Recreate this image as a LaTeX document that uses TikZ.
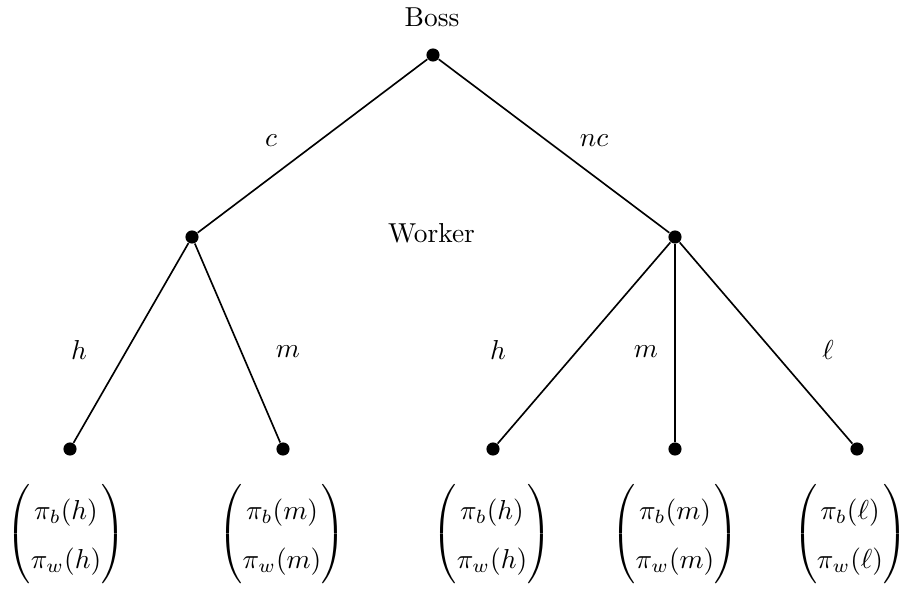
\documentclass[tikz,border=0pt]{standalone}
\usepackage{amsmath}
\begin{document}
\begin{tikzpicture}[x=0.365pt,y=-0.365pt,
  dot/.style={circle,fill=black,inner sep=0pt,minimum size=4.8pt},
  edge/.style={line width=0.6pt},
  lab/.style={inner sep=0pt},
  payoff/.style={inner sep=0pt}]
\useasboundingbox (0,0) rectangle (904,588);
\renewcommand{\arraystretch}{1.5}
\node[dot] (r) at (433,55) {};
\node[dot] (w1) at (192,237) {};
\node[dot] (w2) at (675,237) {};
\node[dot] (l1) at (70,449) {};
\node[dot] (l2) at (283,449) {};
\node[dot] (l3) at (493,449) {};
\node[dot] (l4) at (675,449) {};
\node[dot] (l5) at (857,449) {};
\draw[edge] (r) -- (w1);
\draw[edge] (r) -- (w2);
\draw[edge] (w1) -- (l1);
\draw[edge] (w1) -- (l2);
\draw[edge] (w2) -- (l3);
\draw[edge] (w2) -- (l4);
\draw[edge] (w2) -- (l5);
\node[lab] (boss) at (432,17) {Boss};
\node[lab] (worker) at (431.5,233) {Worker};
\node[lab] (ec) at (271,141) {$c$};
\node[lab] (enc) at (594,141) {$nc$};
\node[lab] (eh1) at (79,350) {$h$};
\node[lab] (em1) at (288,352) {$m$};
\node[lab] (eh2) at (498,350) {$h$};
\node[lab] (em2) at (646,352) {$m$};
\node[lab] (el) at (828,350) {$\ell$};
\node[payoff] (p1) at (66,534) {$\begin{pmatrix}\pi_b(h)\\ \pi_w(h)\end{pmatrix}$};
\node[payoff] (p2) at (282,534) {$\begin{pmatrix}\pi_b(m)\\ \pi_w(m)\end{pmatrix}$};
\node[payoff] (p3) at (492,534) {$\begin{pmatrix}\pi_b(h)\\ \pi_w(h)\end{pmatrix}$};
\node[payoff] (p4) at (675,534) {$\begin{pmatrix}\pi_b(m)\\ \pi_w(m)\end{pmatrix}$};
\node[payoff] (p5) at (850,534) {$\begin{pmatrix}\pi_b(\ell)\\ \pi_w(\ell)\end{pmatrix}$};
\end{tikzpicture}
\end{document}
